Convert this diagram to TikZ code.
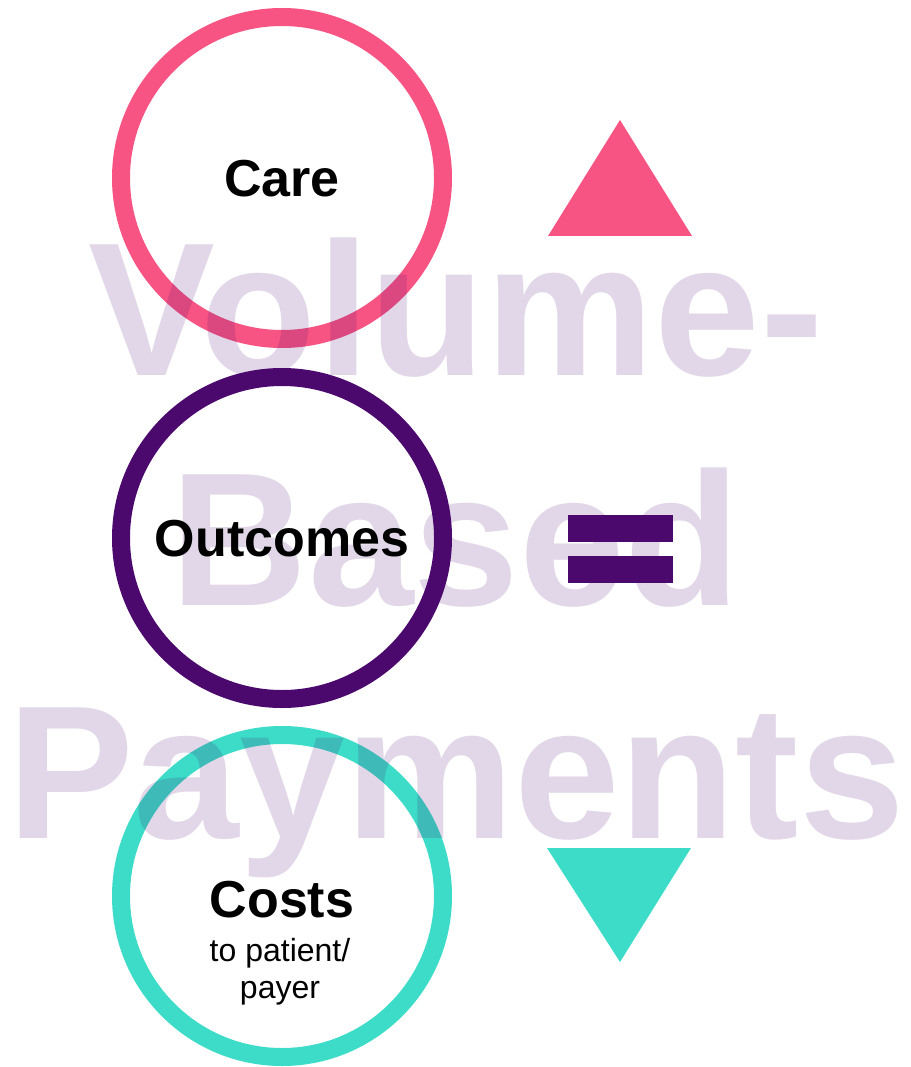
\documentclass[tikz,border=0pt]{standalone}
\usepackage{fontspec}
\setmainfont{Liberation Sans}
\definecolor{carepink}{HTML}{F75383}
\definecolor{outpurple}{HTML}{4B096E}
\definecolor{costteal}{HTML}{3CDCC8}

\begin{document}
\begin{tikzpicture}[x=1pt,y=-1pt,
	ring/.style={circle,draw=#1,line width=18pt,minimum size=322pt,inner sep=0pt},
	head/.style={font=\fontsize{52}{60}\selectfont\bfseries,anchor=base},
	sub/.style={font=\fontsize{32}{38}\selectfont,anchor=base},
	wmark/.style={font=\fontsize{190}{230}\selectfont\bfseries,text=outpurple,text opacity=0.16,anchor=base}]
	\useasboundingbox (0,0) rectangle (910,1067);

	\node[ring=carepink]  (care) at (282,178) {};
	\node[ring=outpurple] (outc) at (282,538) {};
	\node[ring=costteal]  (cost) at (282,896) {};

	\fill[carepink] (548,236) -- (620,120) -- (692,236) -- cycle;
	\fill[outpurple] (568,515) rectangle (673,542);
	\fill[outpurple] (568,556) rectangle (673,583);
	\fill[costteal] (547,848) -- (691,848) -- (620,962) -- cycle;

	\node[wmark] (w1) at (456,375) {Volume-};
	\node[wmark] (w2) at (456,605) {Based};
	\node[wmark] (w3) at (456,838) {Payments};

	\node[head] (carelbl) at (282,197) {Care};
	\node[head] (outclbl) at (282,556) {Outcomes};
	\node[head] (costlbl) at (282,917) {Costs};
	\node[sub]  (costs1)  at (280,961) {to patient/};
	\node[sub]  (costs2)  at (280,998) {payer};
\end{tikzpicture}
\end{document}
